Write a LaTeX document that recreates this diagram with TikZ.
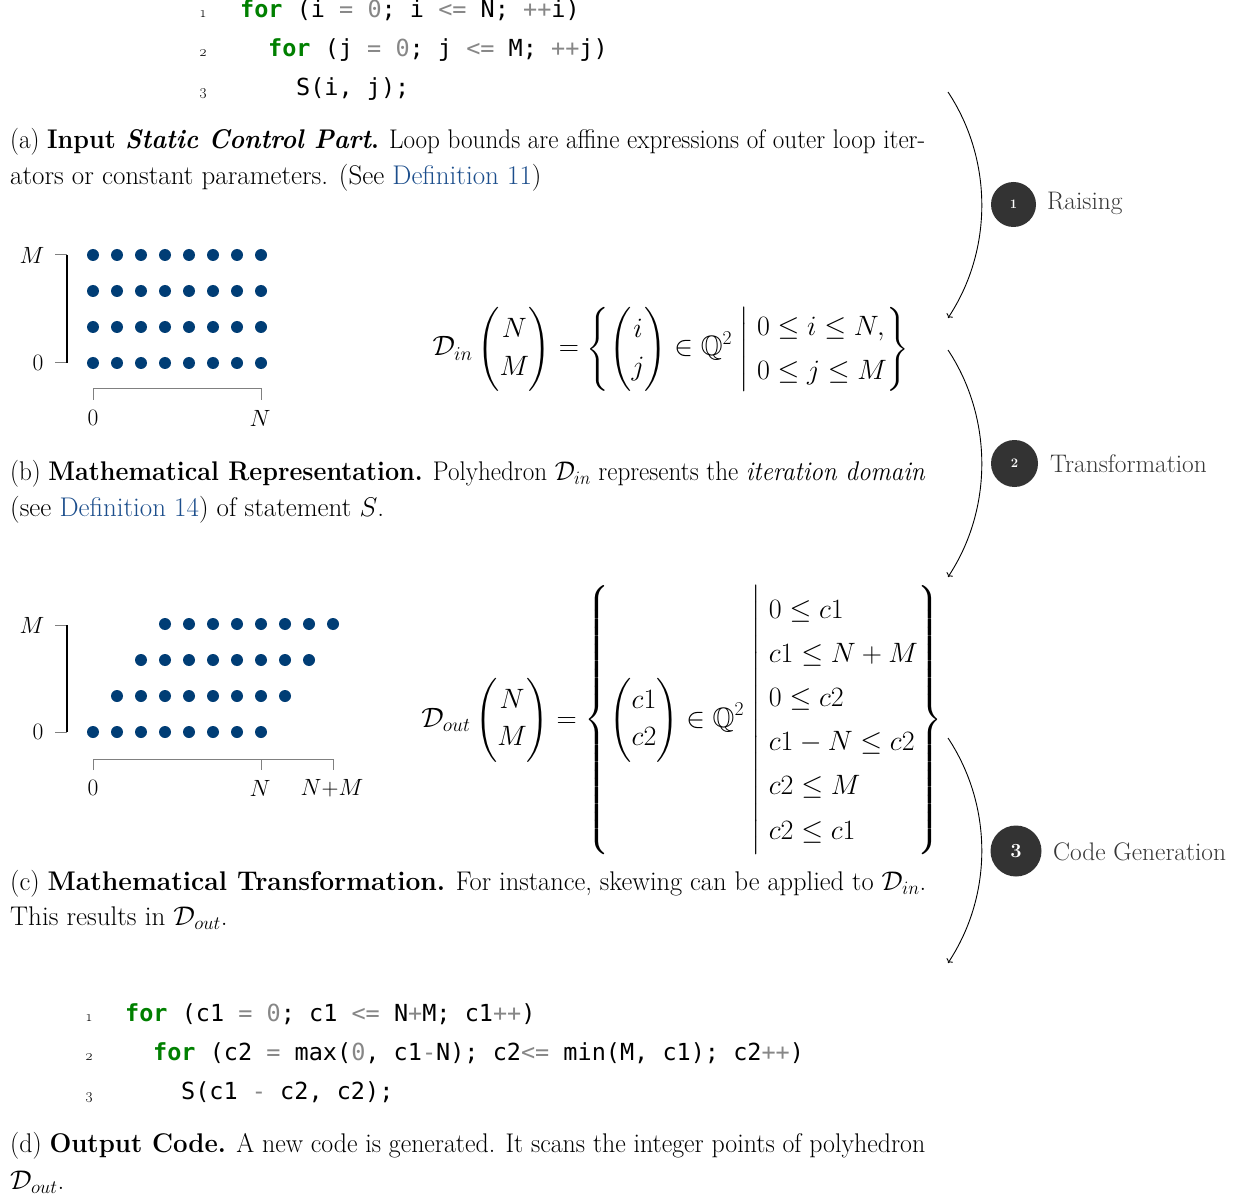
\RequirePackage{fix-cm}
\documentclass[tikz,border=0pt]{standalone}
\usepackage{amsmath,amssymb}
\DeclareFontFamily{U}{msb}{}
\DeclareFontShape{U}{msb}{m}{n}{<-> msbm10}{}
\usepackage[no-math]{fontspec}
\setmainfont{Latin Modern Roman}
\setmonofont{DejaVu Sans Mono}
\usetikzlibrary{arrows.meta}
\definecolor{dotblue}{RGB}{0,61,117}
\definecolor{kwgreen}{RGB}{0,128,0}
\definecolor{opgray}{RGB}{135,135,135}
\definecolor{linkblue}{RGB}{28,78,140}
\definecolor{circfill}{RGB}{51,51,51}
\definecolor{lblgray}{RGB}{55,55,55}
\newcommand\capfont{\fontsize{27}{32}\selectfont}
\newcommand\lblfont{\fontsize{25.4}{30}\selectfont}
\newcommand\codefont{\fontsize{23.5}{28}\selectfont\ttfamily}
\newcommand\mfont{\fontsize{28}{26.4}\selectfont}
\newcommand\axfont{\fontsize{23.5}{28}\selectfont}
\newcommand\lnfont{\fontsize{15}{17}\selectfont}
\newcommand\kw[1]{\textcolor{kwgreen}{\bfseries #1}}
\newcommand\op[1]{\textcolor{opgray}{#1}}
\newsavebox\jlbox
\newcommand\jline[2]{\sbox\jlbox{#2}%
  \ifdim\wd\jlbox>#1pt\relax
    \resizebox{#1pt}{\height}{\usebox\jlbox}%
  \else
    \hbox to #1pt{\spaceskip=0.333em plus 1.5em\relax #2}%
  \fi}
\newcommand\lnk[1]{\textcolor{linkblue}{#1}}
\tikzset{
  ptdot/.style={circle, fill=dotblue, inner sep=0pt, minimum size=12pt},
  captxt/.style={anchor=base west, inner sep=0pt, font=\capfont},
  codetxt/.style={anchor=base west, inner sep=0pt, font=\codefont},
  lnum/.style={anchor=base, inner sep=0pt, font=\lnfont},
  axlbl/.style={inner sep=0pt, font=\axfont},
  tickline/.style={draw=gray, line width=1pt},
  axisline/.style={line width=1.2pt},
  stepnum/.style={circle, fill=circfill, text=white, inner sep=0pt, font=\bfseries},
  steplbl/.style={anchor=base west, inner sep=0pt, font=\lblfont, text=lblgray},
  flow/.style={->, line width=0.9pt}
}
\begin{document}
\begin{tikzpicture}[x=1pt, y=-1pt]
\useasboundingbox (0,0) rectangle (1259,1198);
\fill[white] (0,0) rectangle (1259,1198);

% ---- (a) input code
\node[lnum] (n1) at (203,18) {\oldstylenums{1}};
\node[lnum] (n2) at (203,57) {\oldstylenums{2}};
\node[lnum] (n3) at (203,96) {\oldstylenums{3}};
\node[codetxt] (c1) at (240,18) {\kw{for} (i \op{=} \op{0}; i \op{<=} N; \op{++}i)};
\node[codetxt] (c2) at (268,57) {\kw{for} (j \op{=} \op{0}; j \op{<=} M; \op{++}j)};
\node[codetxt] (c3) at (296,96) {S(i, j);};

\node[captxt] (ca1) at (10,149) {\jline{915}{(a) \textbf{Input \textit{Static Control Part}.} Loop bounds are affine expressions of outer loop iter-}};
\node[captxt] (ca2) at (10,185) {ators or constant parameters. (See \lnk{Definition 11})};

% ---- (b) domain
\foreach \i in {0,...,7} \foreach \j in {0,...,3}
  \node[ptdot] (b\i\j) at ({93+24*\i},{363-36*\j}) {};
\draw[tickline] (55,255) -- (67,255);
\draw[tickline] (55,363) -- (67,363);
\draw[axisline] (67,255) -- (67,363);
\draw[tickline] (93,400) -- (93,389) -- (261,389) -- (261,400);
\node[axlbl] (bM) at (32,255) {$M$};
\node[axlbl] (b0) at (38,363) {$0$};
\node[axlbl] (bx0) at (93,418) {$0$};
\node[axlbl] (bxN) at (260,418) {$N$};

\node[inner sep=0pt, font=\mfont] (din) at (671,349) {\renewcommand\arraystretch{1.45}$\displaystyle
 \mathcal{D}_{in}\begin{pmatrix}N\\M\end{pmatrix} = \left\{\begin{pmatrix}i\\j\end{pmatrix}\in\mathbb{Q}^2 \;\middle|\;
 {\renewcommand\arraystretch{1.67}\begin{array}{@{}l@{}}0\le i\le N,\\0\le j\le M\end{array}}\right\}$};

\node[captxt] (cb1) at (10,480) {\jline{915}{(b) \textbf{Mathematical Representation.} Polyhedron $\mathcal{D}_{in}$ represents the \textit{iteration domain}}};
\node[captxt] (cb2) at (10,516) {(see \lnk{Definition 14}) of statement $S$.};

% ---- (c) transformed domain
\foreach \i in {0,...,7} \foreach \j in {0,...,3}
  \node[ptdot] (t\i\j) at ({93+24*(\i+\j)},{732-36*\j}) {};
\draw[tickline] (55,625) -- (67,625);
\draw[tickline] (55,732) -- (67,732);
\draw[axisline] (67,625) -- (67,732);
\draw[tickline] (93,770) -- (93,759) -- (333,759) -- (333,770);
\draw[tickline] (261,759) -- (261,770);
\node[axlbl] (tM) at (32,625) {$M$};
\node[axlbl] (t0) at (38,732) {$0$};
\node[axlbl] (tx0) at (93,788) {$0$};
\node[axlbl] (txN) at (260,788) {$N$};
\node[axlbl] (txNM) at (332,788) {$N{+}M$};

\node[inner sep=0pt, font=\mfont] (dout) at (682,720) {\renewcommand\arraystretch{1.4}$\displaystyle
 \mathcal{D}_{out}\begin{pmatrix}N\\M\end{pmatrix} = \left\{\begin{pmatrix}c1\\c2\end{pmatrix}\in\mathbb{Q}^2 \;\middle|\;
 {\renewcommand\arraystretch{1.67}\begin{array}{@{}l@{}}0\le c1\\ c1\le N+M\\ 0\le c2\\ c1-N\le c2\\ c2\le M\\ c2\le c1\end{array}}\right\}$};

\node[captxt] (cc1) at (10,890) {\jline{916}{(c) \textbf{Mathematical Transformation.} For instance, skewing can be applied to $\mathcal{D}_{in}$.}};
\node[captxt] (cc2) at (10,925) {This results in $\mathcal{D}_{out}$.};

% ---- (d) output code
\node[lnum] (m1) at (89,1021) {\oldstylenums{1}};
\node[lnum] (m2) at (89,1060) {\oldstylenums{2}};
\node[lnum] (m3) at (89,1099) {\oldstylenums{3}};
\node[codetxt] (d1) at (125,1021) {\kw{for} (c1 \op{=} \op{0}; c1 \op{<=} N\op{+}M; c1\op{++})};
\node[codetxt] (d2) at (153,1060) {\kw{for} (c2 \op{=} max(\op{0}, c1\op{-}N); c2\op{<=} min(M, c1); c2\op{++})};
\node[codetxt] (d3) at (181,1099) {S(c1 \op{-} c2, c2);};

\node[captxt] (cd1) at (10,1152) {\jline{915}{(d) \textbf{Output Code.} A new code is generated. It scans the integer points of polyhedron}};
\node[captxt] (cd2) at (10,1189) {$\mathcal{D}_{out}$.};

% ---- steps
\coordinate (r1s) at (948,92);  \coordinate (r1e) at (948,318);
\coordinate (r2s) at (948,350); \coordinate (r2e) at (948,577);
\coordinate (r3s) at (948,738); \coordinate (r3e) at (948,963);
\draw[flow] (r1s) .. controls (993,160) and (993,250) .. (r1e);
\draw[flow] (r2s) .. controls (993,418) and (993,509) .. (r2e);
\draw[flow] (r3s) .. controls (993,806) and (993,895) .. (r3e);

\node[stepnum, minimum size=45pt, font=\fontsize{13}{15}\selectfont\bfseries] (s1) at (1013.5,204.5) {1};
\node[stepnum, minimum size=47pt, font=\fontsize{13}{15}\selectfont\bfseries] (s2) at (1014.5,463.5) {2};
\node[stepnum, minimum size=51pt, font=\fontsize{20}{24}\selectfont\bfseries] (s3) at (1016,851) {3};
\node[steplbl] (l1) at (1047,210) {Raising};
\node[steplbl] (l2) at (1050,472) {Transformation};
\node[steplbl] (l3) at (1053,860) {Code Generation};
\end{tikzpicture}
\end{document}
